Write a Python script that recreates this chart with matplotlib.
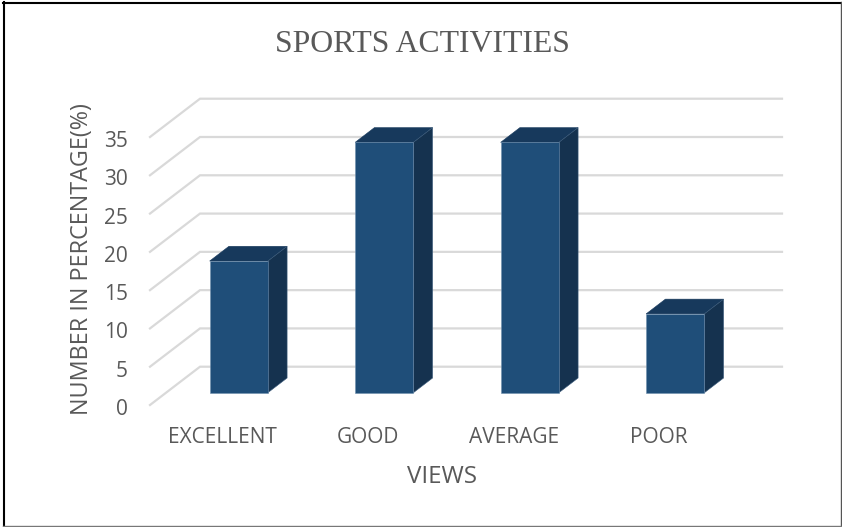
# setup
import matplotlib
matplotlib.use('Agg')
import matplotlib.pyplot as plt
from matplotlib.lines import Line2D
from matplotlib.transforms import ScaledTranslation

W, H = 842, 527

categories = ['EXCELLENT', 'GOOD', 'AVERAGE', 'POOR']
values = [17.2, 32.7, 32.7, 10.3]
y_ticks = [0, 5, 10, 15, 20, 25, 30, 35]

# fake 3d: one unit of depth moves a point this far in data coords
depth_x = 50 / 145.5
depth_y = 5.0


def project(x, y, d):
    return x + depth_x * d, y + depth_y * d


def face(ax, corners, color, edge, z=3):
    pts = [project(*c) for c in corners]
    ax.fill([p[0] for p in pts], [p[1] for p in pts], facecolor=color,
            edgecolor=edge, linewidth=0.4, zorder=z, clip_on=False)


def frame_line(fig, x, y, color, lw):
    fig.add_artist(Line2D([v / W for v in x], [1 - v / H for v in y], color=color,
                          linewidth=lw, transform=fig.transFigure))


fig = plt.figure(figsize=(W / 100, H / 100), dpi=100, facecolor='white')

# frame: black top and left, grey right and bottom
frame_line(fig, [3.5, 3.5], [2, 526], '#000000', 1.5)
frame_line(fig, [3, 841], [2.5, 2.5], '#000000', 1.5)
frame_line(fig, [840.7, 840.7], [2, 526], '#555555', 1.0)
frame_line(fig, [3, 841], [526, 526], '#777777', 1.0)

ax = fig.add_axes([150 / W, 1 - 405 / H, 582 / W, 268 / H])
ax.set_xlim(0, 4)
ax.set_ylim(0, 35)
ax.patch.set_alpha(0)
for s in ax.spines.values():
    s.set_visible(False)

# wall and floor lines
for t in y_ticks:
    x0, y0 = project(0, t, 0)
    x1, y1 = project(0, t, 1)
    x2, y2 = project(4, t, 1)
    ax.plot([x0, x1, x2], [y0, y1, y2], color='#d9d9d9', linewidth=1.6,
            zorder=1, clip_on=False, solid_joinstyle='miter')

# bars
bar_w = 0.40
d0, d1 = 0.32, 0.705
for i, v in enumerate(values):
    c = i + 0.5
    l, r = c - bar_w / 2, c + bar_w / 2
    face(ax, [(l, v, d0), (r, v, d0), (r, v, d1), (l, v, d1)], '#17395c', '#17395c')
    face(ax, [(r, 0, d0), (r, v, d0), (r, v, d1), (r, 0, d1)], '#15324f', '#3f5f7f')
    face(ax, [(l, 0, d0), (r, 0, d0), (r, v, d0), (l, v, d0)], '#1f4e79', '#6f8fae', z=4)

font = 'Open Sans'
grey = '#595959'
ax.set_xticks([i + 0.5 for i in range(len(categories))])
ax.set_xticklabels(categories, fontname=font, fontsize=15, color=grey)
ax.set_yticks(y_ticks)
ax.set_yticklabels(y_ticks, fontname=font, fontsize=15, color=grey)
ax.tick_params(axis='x', length=0, pad=15.5)
ax.tick_params(axis='y', length=0, pad=16)

# y numbers sit a little below their lines
shift = ScaledTranslation(0, -2 / 100, fig.dpi_scale_trans)
for lab in ax.get_yticklabels():
    lab.set_transform(lab.get_transform() + shift)

fig.text(82 / W, 1 - 259 / H, 'NUMBER IN PERCENTAGE(%)', rotation=90, ha='center', va='center',
         fontname=font, fontsize=16.8, color=grey)
fig.text(442 / W, 1 - 477 / H, 'VIEWS', ha='center', va='center',
         fontname=font, fontsize=17.4, color=grey)
fig.text(422 / W, 1 - 44 / H, 'SPORTS ACTIVITIES', ha='center', va='center',
         fontname='Liberation Serif', fontsize=22.9, color=grey)

fig.savefig('out.png', dpi=100)
